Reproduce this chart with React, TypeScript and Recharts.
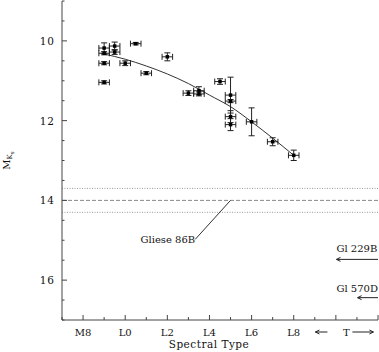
import React from "react";
import {
  ComposedChart,
  Scatter,
  Line,
  XAxis,
  YAxis,
  ErrorBar,
  ReferenceLine,
  ReferenceDot,
  Label,
} from "recharts";

// spectral type index: L0 = 0, M8 = -2, T0 = 10
const spType = [-1, -1, -1, -1, -0.5, -0.5, 0, 0.5, 1, 2, 3, 3.5, 3.5, 4.5, 5, 5, 5, 5, 6, 7, 8];
const spErr = [0.25, 0.25, 0.25, 0.25, 0.25, 0.25, 0.25, 0.25, 0.25, 0.25, 0.25, 0.25, 0.25, 0.25, 0.25, 0.25, 0.25, 0.25, 0.25, 0.25, 0.25];
const mKs = [10.18, 10.31, 10.56, 11.04, 10.13, 10.28, 10.56, 10.07, 10.81, 10.4, 11.31, 11.25, 11.33, 11.02, 11.36, 11.51, 11.9, 12.1, 12.03, 12.53, 12.87];
const mKsErr = [0.13, 0.04, 0.04, 0.04, 0.1, 0.06, 0.06, 0.03, 0.04, 0.1, 0.06, 0.1, 0.05, 0.07, 0.45, 0.04, 0.15, 0.15, 0.35, 0.1, 0.13];

// polynomial fit
const fitType = [-1, 0, 1, 2, 3, 4, 5, 6, 7, 8];
const fitMKs = [10.33, 10.46, 10.63, 10.83, 11.07, 11.36, 11.65, 12.03, 12.44, 12.87];

// Gliese 86B and its range
const gl86B = 14.0;
const gl86BRange = [13.7, 14.3];

const xTicks = [-3, -2, -1, 0, 1, 2, 3, 4, 5, 6, 7, 8, 9, 10, 11, 12];
const xLabels: Record<number, string> = { [-2]: "M8", 0: "L0", 2: "L2", 4: "L4", 6: "L6", 8: "L8" };
const tPos = 10.5;
const yTicks = [9, 9.5, 10, 10.5, 11, 11.5, 12, 12.5, 13, 13.5, 14, 14.5, 15, 15.5, 16, 16.5, 17];
const yLabels = [10, 12, 14, 16];

const points = spType.map((x, i) => ({ x, y: mKs[i], xErr: spErr[i], yErr: mKsErr[i] }));
const fit = fitType.map((x, i) => ({ x, y: fitMKs[i] }));

const AXIS = "#444";
const FONT = "DejaVu Serif";

function BottomTick({ x, y, payload }: any) {
  const v = payload.value;
  if (v === tPos) {
    const ty = y + 12;
    return (
      <g stroke="#222" fill="none">
        <line x1={x - 31} y1={ty} x2={x - 19} y2={ty} />
        <path d={`M${x - 27},${ty - 2} L${x - 31},${ty} L${x - 27},${ty + 2}`} />
        <line x1={x + 6} y1={ty} x2={x + 27} y2={ty} />
        <path d={`M${x + 23},${ty - 2} L${x + 27},${ty} L${x + 23},${ty + 2}`} />
        <text x={x} y={ty + 3.5} textAnchor="middle" fontFamily={FONT} fontSize={10} fill="#111" stroke="none">
          T
        </text>
      </g>
    );
  }
  const major = v % 2 === 0;
  const label = xLabels[v];
  return (
    <g>
      <line x1={x} y1={y} x2={x} y2={y - (major ? 5 : 3)} stroke={AXIS} />
      {label && (
        <text x={x} y={y + 15.5} textAnchor="middle" fontFamily={FONT} fontSize={10} fill="#111">
          {label}
        </text>
      )}
    </g>
  );
}

function TopTick({ x, y, payload }: any) {
  const major = payload.value % 2 === 0;
  return <line x1={x} y1={y} x2={x} y2={y + (major ? 5 : 3)} stroke={AXIS} />;
}

function LeftTick({ x, y, payload }: any) {
  const v = payload.value;
  const major = v % 2 === 0;
  return (
    <g>
      <line x1={x} y1={y} x2={x + (major ? 5 : 2.5)} y2={y} stroke={AXIS} />
      {yLabels.includes(v) && (
        <text x={x - 7} y={y + 4} textAnchor="end" fontFamily={FONT} fontSize={10.5} letterSpacing={1} fill="#111">
          {v}
        </text>
      )}
    </g>
  );
}

function RightTick({ x, y, payload }: any) {
  const major = payload.value % 2 === 0;
  return <line x1={x} y1={y} x2={x - (major ? 5 : 2.5)} y2={y} stroke={AXIS} />;
}

function ArrowShape(props: any) {
  const { x1, y1, x2, y2 } = props;
  const dir = Math.sign(x2 - x1);
  return (
    <g stroke="#222" fill="none">
      <line x1={x1} y1={y1} x2={x2} y2={y2} />
      <path d={`M${x2 - dir * 4},${y2 - 2} L${x2},${y2} L${x2 - dir * 4},${y2 + 2}`} />
    </g>
  );
}

const note = (text: string, anchor: "start" | "end") => (p: any) => (
  <text x={p.viewBox.x} y={p.viewBox.y} textAnchor={anchor} fontFamily={FONT} fontSize={10} fill="#111">
    {text}
  </text>
);

function YTitle(p: any) {
  const vb = p.viewBox;
  const cx = vb.x + 10;
  const cy = vb.y + vb.height / 2;
  return (
    <text transform={`rotate(-90 ${cx} ${cy})`} x={cx} y={cy} textAnchor="middle" fontFamily={FONT} fontSize={10} fill="#111">
      M
      <tspan fontSize={7} dy={2}>K</tspan>
      <tspan fontSize={5.5} dy={1.5}>s</tspan>
    </text>
  );
}

function XTitle(p: any) {
  const vb = p.viewBox;
  return (
    <text x={vb.x + vb.width / 2 - 11} y={vb.y + 28} textAnchor="middle" fontFamily={FONT} fontSize={10.5} letterSpacing={0.5} fill="#111">
      Spectral Type
    </text>
  );
}

export default function App() {
  return (
    <div style={{ position: "absolute", left: 0, top: 0, background: "#fff" }}>
      <ComposedChart width={379} height={352} margin={{ top: 1, right: 1, bottom: 0, left: 0 }}>
        <XAxis
          dataKey="x"
          type="number"
          domain={[-3, 12]}
          ticks={[...xTicks, tPos]}
          interval={0}
          height={32}
          tickSize={0}
          tickMargin={0}
          tickLine={false}
          tick={(p: any) => <BottomTick {...p} />}
          axisLine={{ stroke: AXIS }}
          allowDataOverflow
        >
          <Label content={XTitle} />
        </XAxis>
        <XAxis
          xAxisId="top"
          orientation="top"
          type="number"
          domain={[-3, 12]}
          ticks={xTicks}
          interval={0}
          height={0}
          tickSize={0}
          tickMargin={0}
          tickLine={false}
          tick={(p: any) => <TopTick {...p} />}
          axisLine={{ stroke: AXIS }}
          allowDataOverflow
        />
        <YAxis
          dataKey="y"
          type="number"
          domain={[9, 17]}
          reversed
          ticks={yTicks}
          interval={0}
          width={62}
          tickSize={0}
          tickMargin={0}
          tickLine={false}
          tick={(p: any) => <LeftTick {...p} />}
          axisLine={{ stroke: AXIS }}
          allowDataOverflow
        >
          <Label content={YTitle} />
        </YAxis>
        <YAxis
          yAxisId="right"
          orientation="right"
          type="number"
          domain={[9, 17]}
          reversed
          ticks={yTicks}
          interval={0}
          width={0}
          tickSize={0}
          tickMargin={0}
          tickLine={false}
          tick={(p: any) => <RightTick {...p} />}
          axisLine={{ stroke: AXIS }}
          allowDataOverflow
        />

        <ReferenceLine y={gl86BRange[0]} stroke="#999" strokeDasharray="1 1.5" />
        <ReferenceLine y={gl86B} stroke="#888" strokeDasharray="4 2" />
        <ReferenceLine y={gl86BRange[1]} stroke="#999" strokeDasharray="1 1.5" />
        <ReferenceLine segment={[{ x: 3.32, y: 14.98 }, { x: 5, y: gl86B }]} stroke="#333" />
        <ReferenceDot x={3.32} y={15.06} r={0} stroke="none" fill="none" label={note("Gliese 86B", "end")} />

        <ReferenceLine segment={[{ x: 12, y: 15.48 }, { x: 10.03, y: 15.48 }]} shape={ArrowShape} />
        <ReferenceDot x={10.03} y={15.3} r={0} stroke="none" fill="none" label={note("Gl 229B", "start")} />
        <ReferenceLine segment={[{ x: 12, y: 16.44 }, { x: 11.03, y: 16.44 }]} shape={ArrowShape} />
        <ReferenceDot x={10.03} y={16.29} r={0} stroke="none" fill="none" label={note("Gl 570D", "start")} />

        <Line
          data={fit}
          dataKey="y"
          type="monotone"
          dot={false}
          stroke="#333"
          strokeWidth={1}
          isAnimationActive={false}
        />
        <Scatter
          data={points}
          isAnimationActive={false}
          shape={(p: any) => <rect x={p.cx - 1.75} y={p.cy - 1.75} width={3.5} height={3.5} fill="#000" />}
        >
          <ErrorBar dataKey="xErr" direction="x" width={3} stroke="#222" strokeWidth={1} isAnimationActive={false} />
          <ErrorBar dataKey="yErr" direction="y" width={3} stroke="#222" strokeWidth={1} isAnimationActive={false} />
        </Scatter>
      </ComposedChart>
    </div>
  );
}
